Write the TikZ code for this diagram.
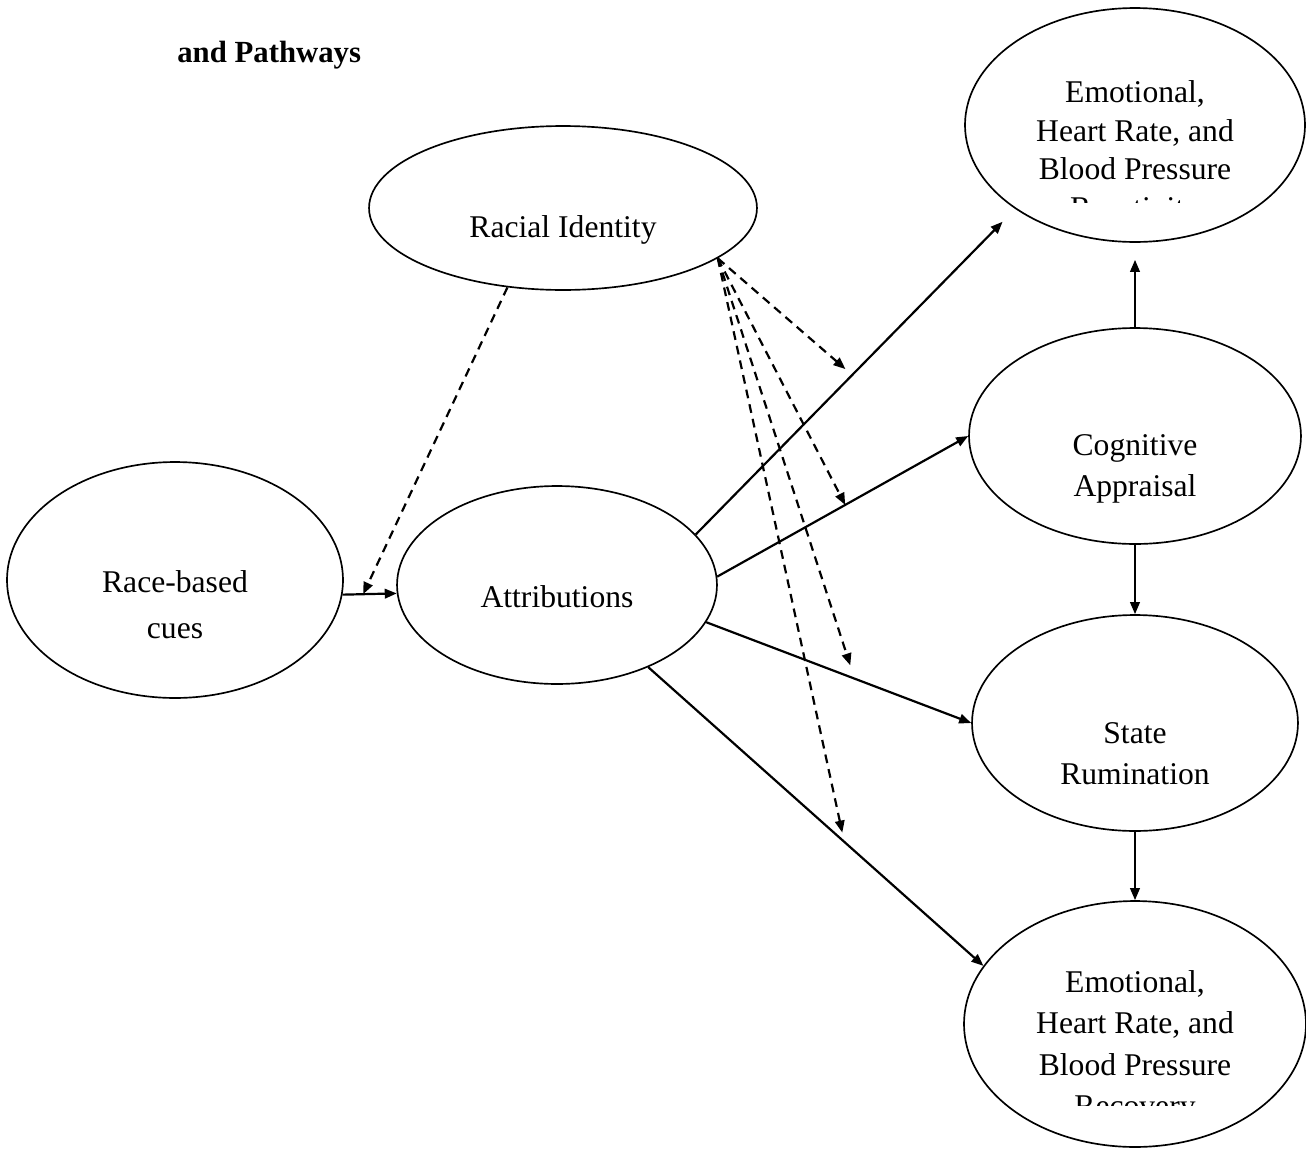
\documentclass[tikz,border=0pt]{standalone}
\usepackage{fontspec}
\setmainfont{Liberation Serif}
\usetikzlibrary{shapes.geometric, arrows.meta}
\tikzset{
    construct/.style={ellipse, draw=black, line width=0.95pt, inner sep=0pt},
    caption/.style={align=center, inner sep=0pt, font=\fontsize{18}{22}\selectfont},
    arrow/.style={-{Triangle[length=0.24cm, width=0.19cm]}, line width=1.25pt},
    dasharrow/.style={arrow, dash pattern=on 5pt off 3.5pt},
}

\begin{document}
\begin{tikzpicture}[x=0.02cm, y=-0.02cm]
    \useasboundingbox (0,0) rectangle (1306,1150);

    % Heading
    \node[anchor=base west, inner sep=0pt, font=\fontsize{17.5}{22}\selectfont\bfseries] (heading) at (177,62) {and Pathways};

    % Constructs
    \node[construct, minimum width=7.76cm, minimum height=3.28cm] (racial) at (563,208) {};
    \node[construct, minimum width=6.72cm, minimum height=4.72cm] (cues) at (175,580) {};
    \node[construct, minimum width=6.40cm, minimum height=3.96cm] (attr) at (557,585) {};
    \node[construct, minimum width=6.80cm, minimum height=4.68cm] (react) at (1135,125) {};
    \node[construct, minimum width=6.64cm, minimum height=4.32cm] (cog) at (1135,436) {};
    \node[construct, minimum width=6.52cm, minimum height=4.32cm] (rum) at (1135,723) {};
    \node[construct, minimum width=6.84cm, minimum height=4.92cm] (recov) at (1135,1024) {};

    % Labels
    \node[caption] (racial_txt) at (563,230) {Racial Identity};
    \node[caption] (cues_txt) at (175,604.5) {Race-based\\[4pt]cues};
    \node[caption] (attr_txt) at (557,596.5) {Attributions};
    \node[caption] (cog_txt) at (1135,469) {Cognitive\\[1.5pt]Appraisal};
    \node[caption] (rum_txt) at (1135,753.5) {State\\[1.5pt]Rumination};
    \begin{scope}
        \clip (1030,60) rectangle (1240,202);
        \node[caption] (react_txt) at (1135,153) {Emotional,\\Heart Rate, and\\Blood Pressure\\Reactivity};
    \end{scope}
    \begin{scope}
        \clip (1030,950) rectangle (1240,1105);
        \node[caption] (recov_txt) at (1135,1047) {Emotional,\\[1.5pt]Heart Rate, and\\[1.5pt]Blood Pressure\\[1.5pt]Recovery};
    \end{scope}

    % Paths
    \draw[arrow] (cues.-5) -- coordinate[pos=0.38] (mod_a) (attr.183);
    \draw[arrow, shorten >=0.36cm] (attr.20) -- coordinate[pos=0.49] (mod_b) (react.215);
    \draw[arrow] (attr.3) -- coordinate[pos=0.51] (mod_c) (cog.west);
    \draw[arrow] (attr.-14) -- coordinate[pos=0.56] (mod_d) (rum.west);
    \draw[arrow] (attr.-42) -- coordinate[pos=0.585] (mod_e) (recov.159);
    \draw[arrow, shorten >=0.34cm] (cog.north) -- (react.south);
    \draw[arrow] (cog.south) -- (rum.north);
    \draw[arrow] (rum.south) -- (recov.north);

    % Moderation by racial identity
    \draw[dasharrow] (racial.235) -- (mod_a);
    \draw[dasharrow, shorten >=0.18cm] (racial.-18) -- (mod_b);
    \draw[dasharrow] (racial.-18) -- (mod_c);
    \draw[dasharrow, shorten >=0.28cm] (racial.-18) -- (mod_d);
    \draw[dasharrow, shorten >=0.19cm] (racial.-18) -- (mod_e);
\end{tikzpicture}
\end{document}
